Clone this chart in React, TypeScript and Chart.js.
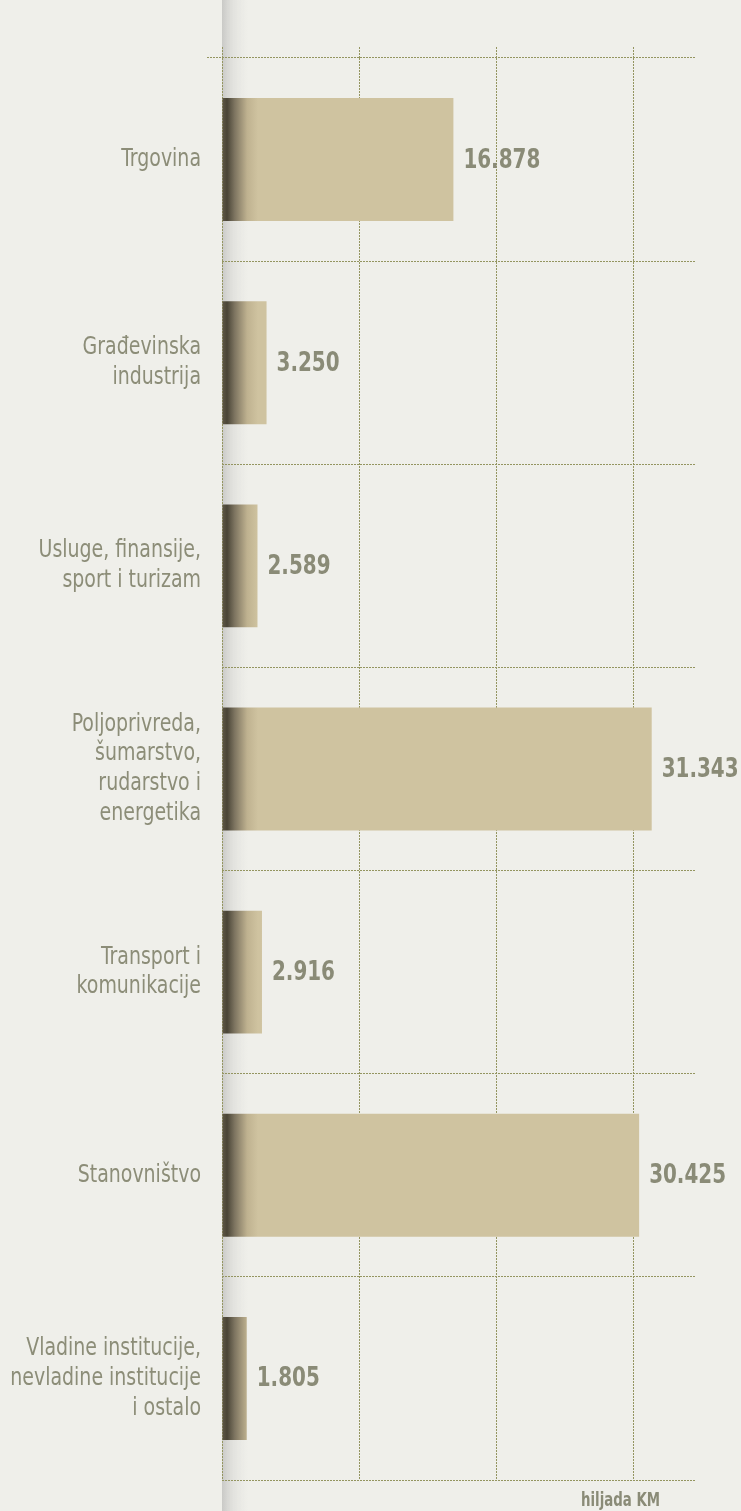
import React, { useEffect, useRef } from "react";
import { Chart, registerables } from "chart.js";

Chart.register(...registerables);

// ---- data ----
const categories: (string | string[])[] = [
  "Trgovina",
  ["Građevinska", "industrija"],
  ["Usluge, finansije,", "sport i turizam"],
  ["Poljoprivreda,", "šumarstvo,", "rudarstvo i", "energetika"],
  ["Transport i", "komunikacije"],
  "Stanovništvo",
  ["Vladine institucije,", "nevladine institucije", "i ostalo"],
];
const values: number[] = [16878, 3250, 2589, 31343, 2916, 30425, 1805];
const xTickValues: number[] = [0, 10000, 20000, 30000];
const xMax = 34500;
const unitLabel = "hiljada KM";

// ---- styles ----
const FONT = '"DejaVu Sans Condensed", "Liberation Sans Narrow", sans-serif';
const TEXT_COLOR = "#8c8d78";
const VALUE_COLOR = "#8a8b77";
const GRID_COLOR = "#949560";
const BAR_TAN = "#cfc3a0";
const BG = "#efefea";
const LABEL_SQUEEZE = 0.86;
const VALUE_SQUEEZE = 0.82;
const UNIT_SQUEEZE = 0.78;

const fmt = (v: number) => {
  const s = String(Math.round(v));
  return s.replace(/\B(?=(\d{3})+(?!\d))/g, ".");
};

const drawSqueezed = (ctx: any, text: string, x: number, y: number, sx: number) => {
  ctx.save();
  ctx.translate(x, y);
  ctx.scale(sx, 1);
  ctx.fillText(text, 0, 0);
  ctx.restore();
};

const axisShadow = {
  id: "axisShadow",
  beforeDraw(chart: any) {
    const area = chart.chartArea;
    if (!area) return;
    const ctx = chart.ctx;
    const x0 = area.left;
    ctx.save();
    const g = ctx.createLinearGradient(x0, 0, x0 + 26, 0);
    g.addColorStop(0, "rgba(150,150,150,0.42)");
    g.addColorStop(0.4, "rgba(170,170,170,0.2)");
    g.addColorStop(1, "rgba(200,200,200,0)");
    ctx.fillStyle = g;
    ctx.fillRect(x0, 0, 26, chart.height);
    ctx.restore();
    // condense the category tick labels horizontally around their right edge
    const ys = chart.scales.y;
    if (ys && !ys._squeezed) {
      const orig = ys.drawLabels.bind(ys);
      ys._computeLabelArea = () => undefined;
      ys.drawLabels = (a: any) => {
        const c = ys.ctx;
        const rx = ys.right - 15 - 6;
        c.save();
        c.translate(rx, 0);
        c.scale(LABEL_SQUEEZE, 1);
        c.translate(-rx, 0);
        orig(a);
        c.restore();
      };
      ys._squeezed = true;
    }
  },
};

const valueLabels = {
  id: "valueLabels",
  afterDatasetsDraw(chart: any) {
    const ctx = chart.ctx;
    const meta = chart.getDatasetMeta(0);
    ctx.save();
    ctx.font = `bold 27px ${FONT}`;
    ctx.fillStyle = VALUE_COLOR;
    ctx.textBaseline = "middle";
    ctx.textAlign = "left";
    meta.data.forEach((bar: any, i: number) => {
      const { x, y } = bar.getProps(["x", "y"], true);
      drawSqueezed(ctx, fmt(values[i]), x + 10, y + 1, VALUE_SQUEEZE);
    });
    ctx.restore();
  },
  afterDraw(chart: any) {
    const ctx = chart.ctx;
    const area = chart.chartArea;
    ctx.save();
    ctx.font = `bold 19px ${FONT}`;
    ctx.fillStyle = VALUE_COLOR;
    ctx.textAlign = "right";
    ctx.textBaseline = "alphabetic";
    drawSqueezed(ctx, unitLabel, area.right - 35, area.bottom + 26, UNIT_SQUEEZE);
    ctx.restore();
  },
};

export default function App() {
  const ref = useRef<HTMLCanvasElement | null>(null);

  useEffect(() => {
    if (!ref.current) return;
    const chart = new Chart(ref.current, {
      type: "bar",
      data: {
        labels: categories,
        datasets: [
          {
            data: values,
            backgroundColor: (c: any) => {
              const ch = c.chart;
              const area = ch.chartArea;
              if (!area) return BAR_TAN;
              const x0 = area.left;
              const g = ch.ctx.createLinearGradient(x0, 0, x0 + 36, 0);
              g.addColorStop(0, "#615a47");
              g.addColorStop(0.14, "#4a4537");
              g.addColorStop(0.35, "#7d7460");
              g.addColorStop(0.7, "#bfb290");
              g.addColorStop(1, BAR_TAN);
              return g;
            },
            borderWidth: 0,
            categoryPercentage: 1,
            barPercentage: 0.605,
          },
        ],
      },
      options: {
        indexAxis: "y",
        animation: false,
        responsive: false,
        maintainAspectRatio: false,
        layout: { padding: { left: 0, right: 46, top: 47, bottom: 31 } },
        plugins: {
          legend: { display: false },
          tooltip: { enabled: false },
          title: { display: false },
        },
        scales: {
          x: {
            type: "linear",
            position: "top",
            min: 0,
            max: xMax,
            afterBuildTicks: (s: any) => {
              s.ticks = xTickValues.map((v) => ({ value: v }));
            },
            ticks: { display: false },
            grid: {
              color: GRID_COLOR,
              lineWidth: 1,
              drawTicks: true,
              tickLength: 11,
              tickColor: GRID_COLOR,
              tickBorderDash: [2, 1],
            },
            border: { display: false, dash: [2, 1] },
          },
          y: {
            type: "category",
            offset: true,
            afterFit: (s: any) => {
              s.width = 222;
            },
            ticks: {
              color: TEXT_COLOR,
              padding: 6,
              font: { family: FONT, size: 24.5, lineHeight: 1.22 },
            },
            grid: {
              offset: true,
              color: GRID_COLOR,
              lineWidth: 1,
              drawTicks: true,
              tickLength: 15,
              tickColor: (c: any) => (c.index === 0 ? GRID_COLOR : "rgba(0,0,0,0)"),
              tickBorderDash: [2, 1],
            },
            border: { display: false, dash: [2, 1] },
          },
        },
      },
      plugins: [axisShadow, valueLabels],
    } as any);
    return () => chart.destroy();
  }, []);

  return (
    <div
      style={{
        position: "absolute",
        left: 0,
        top: 0,
        width: 741,
        height: 1511,
        background: BG,
      }}
    >
      <canvas ref={ref} width={741} height={1511} style={{ display: "block", width: 741, height: 1511 }} />
    </div>
  );
}
